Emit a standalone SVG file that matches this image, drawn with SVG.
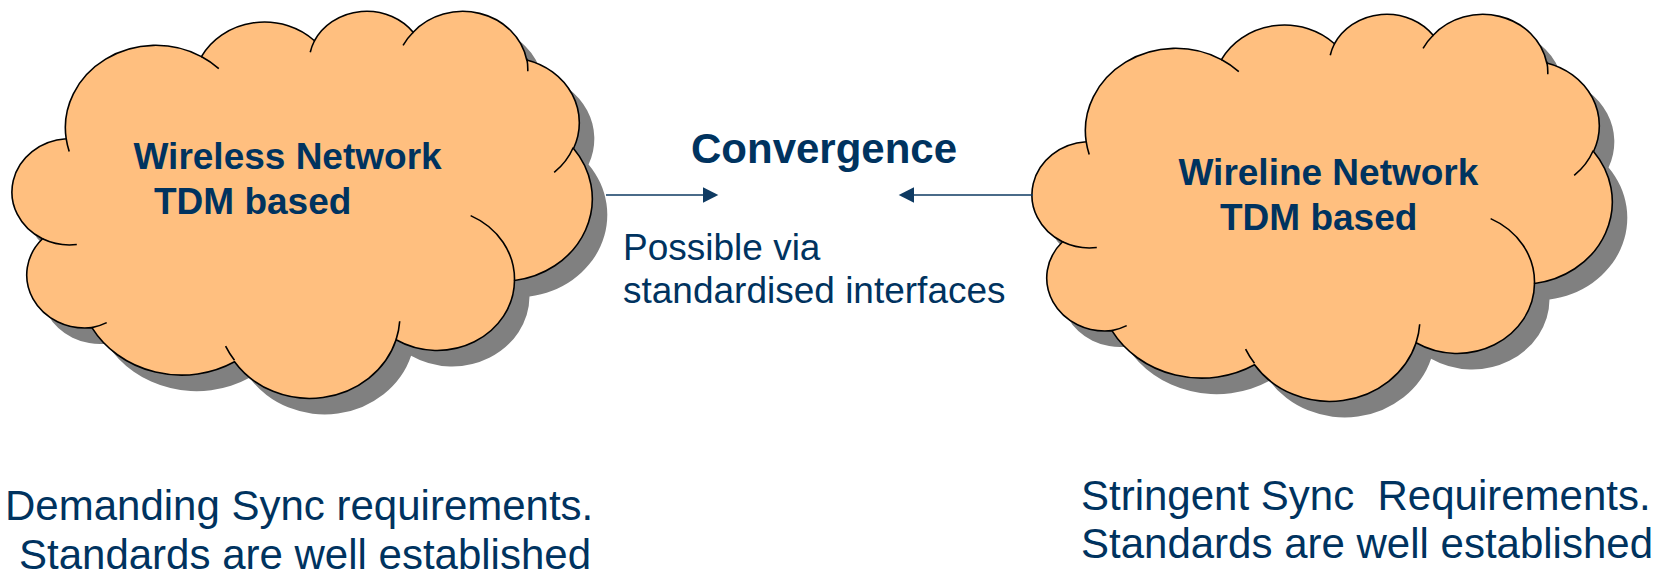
<svg xmlns="http://www.w3.org/2000/svg" xmlns:xlink="http://www.w3.org/1999/xlink" width="1675" height="575" viewBox="0 0 1675 575">
<style>
.shadow{fill:#808080;stroke:none}
.cloud{fill:#FFBF7F;stroke:#000;stroke-width:1.6}
.inner{fill:none;stroke:#000;stroke-width:1.6}
.bold{font-family:"Liberation Sans",Arial,sans-serif;font-weight:bold;fill:#00335F}
.reg{font-family:"Liberation Sans",Arial,sans-serif;fill:#00335F;white-space:pre}
.conn{stroke:#0E3A62;stroke-width:1.6;fill:none}
</style>
<defs>
<path id="cloudShape" d="M66.18,138.73 A90.36,82.33 0 0 1 201.40,56.61 A71.36,65.10 0 0 1 314.47,40.75 A58.40,53.26 0 0 1 413.19,32.23 A64.99,59.08 0 0 1 526.72,59.96 A71.36,65.15 0 0 1 573.55,148.50 A90.65,82.60 0 0 1 514.49,280.57 A77.40,70.47 0 0 1 396.09,339.78 A90.34,82.55 0 0 1 234.54,361.76 A103.29,94.45 0 0 1 91.89,327.65 A58.34,53.01 0 0 1 42.50,238.76 A58.14,53.26 0 0 1 66.18,138.73 Z"/>
<path id="cloudInner" d="M76.79,244.50 A58.14,53.26 0 0 1 42.50,238.76 M106.70,322.64 A58.34,53.01 0 0 1 91.89,327.65 M234.48,360.18 A90.34,82.55 0 0 1 225.59,346.16 M399.71,321.31 A90.34,82.55 0 0 1 396.09,339.78 M470.65,215.63 A77.40,70.47 0 0 1 514.49,280.57 M573.26,147.55 A71.36,65.15 0 0 1 554.18,172.48 M526.78,58.61 A64.99,59.08 0 0 1 527.75,71.28 M403.06,45.40 A64.99,59.08 0 0 1 413.19,32.23 M310.25,52.28 A58.40,53.26 0 0 1 314.47,40.75 M201.32,56.51 A90.36,82.33 0 0 1 218.81,68.70 M69.22,151.44 A90.36,82.33 0 0 1 66.18,138.73"/>
<marker id="arrow" markerUnits="userSpaceOnUse" markerWidth="16" markerHeight="16" viewBox="0 0 16 16" refX="9" refY="7.7" orient="auto">
<path d="M0,0 L15.3,7.7 L0,15.4 Z" fill="#0E3A62"/>
</marker>
</defs>

<g id="wireless-network">
<use xlink:href="#cloudShape" class="shadow" transform="translate(15,16)"/>
<use xlink:href="#cloudShape" class="cloud"/>
<use xlink:href="#cloudInner" class="inner"/>
<text class="bold" font-size="37" x="133.5" y="168.5">Wireless Network</text>
<text class="bold" font-size="37" x="154" y="213.5">TDM based</text>
</g>

<g id="wireline-network">
<g transform="translate(1020,3)">
<use xlink:href="#cloudShape" class="shadow" transform="translate(15,16)"/>
<use xlink:href="#cloudShape" class="cloud"/>
<use xlink:href="#cloudInner" class="inner"/>
</g>
<text class="bold" font-size="37" x="1178.5" y="185">Wireline Network</text>
<text class="bold" font-size="37" x="1220" y="230">TDM based</text>
</g>

<g id="convergence">
<text class="bold" font-size="42" x="691" y="163">Convergence</text>
<text class="reg" font-size="37" x="623" y="259.5">Possible via</text>
<text class="reg" font-size="37" x="623" y="302.7">standardised interfaces</text>
</g>

<g id="connectors">
<line class="conn" x1="606" y1="195" x2="712" y2="195" marker-end="url(#arrow)"/>
<line class="conn" x1="1033" y1="195" x2="905" y2="195" marker-end="url(#arrow)"/>
</g>

<g id="wireless-notes">
<text class="reg" font-size="42" x="5" y="520">Demanding Sync requirements.</text>
<text class="reg" font-size="42" x="19" y="569">Standards are well established</text>
</g>

<g id="wireline-notes">
<text class="reg" font-size="42" x="1081" y="509.5">Stringent Sync  Requirements.</text>
<text class="reg" font-size="42" x="1081" y="557.5">Standards are well established</text>
</g>
</svg>
